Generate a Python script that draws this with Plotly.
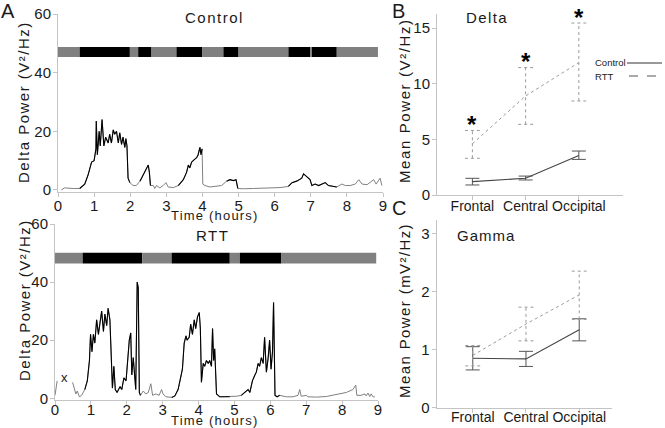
import plotly.graph_objects as go

# ---------------- DATA ----------------
ctrl_t = [0.09, 0.18, 0.42, 0.60, 0.65, 0.74, 0.83, 0.93, 1.00, 1.05, 1.06, 1.09, 1.14, 1.17, 1.22, 1.27,
          1.32, 1.39, 1.43, 1.48, 1.53, 1.57, 1.62, 1.67, 1.71, 1.76, 1.80, 1.85, 1.88, 1.91, 1.94, 1.99,
          2.08, 2.17, 2.27, 2.36, 2.45, 2.50, 2.53, 2.56, 2.64, 2.68, 2.73, 2.82, 2.91, 2.99, 3.05, 3.19,
          3.33, 3.47, 3.56, 3.61, 3.65, 3.70, 3.79, 3.84, 3.88, 3.93, 3.96, 3.99, 4.01, 4.07, 4.21, 4.39,
          4.53, 4.67, 4.76, 4.86, 4.93, 4.98, 5.13, 5.41, 5.78, 6.15, 6.38, 6.48, 6.61, 6.75, 6.80, 6.89,
          6.98, 7.03, 7.12, 7.22, 7.31, 7.40, 7.49, 7.72, 7.86, 7.96, 8.09, 8.23, 8.33, 8.42, 8.56, 8.65,
          8.74, 8.81, 8.92, 8.97]
ctrl_v = [0.0, 0.7, 0.5, 0.5, 1.0, 2.0, 5.0, 9.5, 10.0, 14.0, 23.5, 12.0, 20.0, 15.0, 24.0, 15.0,
          18.0, 16.0, 19.0, 16.0, 20.5, 19.0, 20.0, 16.0, 19.5, 15.5, 18.0, 14.5, 17.5, 15.0, 4.0, 2.5,
          1.5, 1.5, 3.0, 5.0, 7.5, 8.5, 6.0, 1.5, 1.5, 0.5, 1.5, 0.7, 1.5, 2.5, 1.0, 0.8,
          1.5, 3.5, 6.0, 8.5, 7.5, 9.5, 10.5, 11.0, 12.0, 14.5, 12.0, 14.0, 2.0, 1.5, 1.0, 1.2,
          1.5, 3.0, 3.5, 3.2, 3.5, 0.5, 0.4, 0.5, 0.7, 0.8, 1.2, 2.5, 3.0, 4.0, 5.5, 4.5,
          3.5, 1.5, 2.0, 1.5, 2.0, 2.5, 1.5, 1.0, 2.0, 1.5, 1.5, 2.0, 3.5, 2.0, 1.8, 2.5,
          3.5, 2.0, 4.0, 1.5]

rtt_t = [0.00, 0.03, 0.06, 0.20, 0.49, 0.53, 0.58, 0.62, 0.68, 0.74, 0.83, 0.90, 0.96, 0.99, 1.03, 1.07,
         1.11, 1.16, 1.21, 1.25, 1.30, 1.35, 1.39, 1.44, 1.48, 1.53, 1.58, 1.60, 1.64, 1.68, 1.73, 1.81,
         1.86, 1.92, 1.98, 2.02, 2.07, 2.11, 2.14, 2.18, 2.22, 2.25, 2.29, 2.32, 2.35, 2.38, 2.46, 2.53,
         2.60, 2.67, 2.72, 2.81, 2.90, 2.97, 3.01, 3.09, 3.25, 3.34, 3.43, 3.51, 3.55, 3.60, 3.65, 3.68,
         3.74, 3.78, 3.83, 3.88, 3.92, 3.97, 4.02, 4.05, 4.08, 4.13, 4.17, 4.22, 4.27, 4.31, 4.36, 4.39,
         4.42, 4.45, 4.50, 4.59, 4.87, 5.06, 5.19, 5.29, 5.38, 5.43, 5.50, 5.57, 5.61, 5.66, 5.70, 5.75,
         5.80, 5.84, 5.89, 5.94, 5.98, 6.02, 6.06, 6.09, 6.13, 6.19, 6.26, 6.45, 6.63, 6.77, 6.82, 6.86,
         7.00, 7.05, 7.28, 7.56, 7.84, 8.12, 8.30, 8.38, 8.41, 8.53, 8.63, 8.67, 8.72, 8.77, 8.81, 8.86,
         8.91]
rtt_v = [1.0, 4.0, 6.0, None, 5.5, 3.5, 1.5, 2.5, 0.5, 1.0, 3.0, 6.0, 13.0, 22.0, 16.0, 22.0,
         19.0, 27.0, 22.0, 26.0, 30.0, 23.0, 29.0, 25.0, 31.0, 27.0, 12.0, 3.5, 11.0, 3.0, 2.0, 4.0,
         3.0, 7.0, 6.0, 14.0, 20.0, 22.5, 8.0, 14.0, 7.0, 3.0, 40.0, 38.0, 2.0, 1.0, 2.5, 1.5,
         2.0, 5.0, 1.0, 1.5, 1.0, 3.0, 1.5, 0.5, 0.3, 0.8, 3.0, 7.0, 10.0, 19.0, 21.5, 20.0,
         21.0, 25.5, 22.0, 27.0, 24.0, 28.0, 29.5, 24.0, 5.5, 12.0, 11.0, 13.0, 12.0, 13.0, 11.0, 24.0,
         13.0, 17.0, 1.5, 0.5, 0.5, 0.7, 1.0, 2.0, 3.0, 2.0, 6.0, 8.0, 9.0, 12.0, 11.0, 14.0,
         12.0, 21.0, 9.0, 14.0, 20.0, 10.0, 16.0, 33.0, 1.0, 0.5, 1.0, 0.5, 0.5, 1.0, 3.0, 0.7,
         1.0, 0.5, 0.4, 0.6, 1.2, 2.0, 3.0, 4.5, 1.0, 1.0, 1.5, 0.8, 1.8, 0.6, 1.5, 0.5,
         0.5]

# hypnogram state boundaries (hours); segments alternate wake (grey) / sleep (black), starting with wake
ctrl_hyp_edges = [0.0, 0.60, 1.99, 2.22, 2.59, 3.28, 4.00, 4.58, 5.00, 6.38, 6.98, 7.03, 7.72, 8.86]
rtt_hyp_edges = [0.0, 0.77, 2.43, 3.25, 4.87, 5.15, 6.31, 8.95]

regions = ["Frontal", "Central", "Occipital"]
delta_ctrl = [1.2, 1.5, 3.55]
delta_ctrl_lo = [0.9, 1.35, 3.2]
delta_ctrl_hi = [1.5, 1.7, 3.95]
delta_rtt = [4.6, 8.9, 11.9]
delta_rtt_lo = [3.3, 6.35, 8.45]
delta_rtt_hi = [5.8, 11.45, 15.45]

gamma_ctrl = [0.85, 0.84, 1.34]
gamma_ctrl_lo = [0.65, 0.71, 1.15]
gamma_ctrl_hi = [1.05, 0.97, 1.53]
gamma_rtt = [0.90, 1.44, 1.94]
gamma_rtt_lo = [0.72, 1.15, 1.52]
gamma_rtt_hi = [1.07, 1.73, 2.35]

# ---------------- STYLE ----------------
FONT = "Liberation Sans, Arial, sans-serif"
GREY = "#808080"
AXC = "#c4c4c4"
W, H = 665, 428


def px(xp):
    return xp / W


def py(yp):
    return 1 - yp / H


fig = go.Figure()


def sleep_mask(t, v, edges):
    out = []
    for ti, vi in zip(t, v):
        keep = False
        for k in range(1, len(edges) - 1, 2):
            if edges[k] <= ti <= edges[k + 1]:
                keep = True
        out.append(vi if keep else None)
    return out


for (t, v, edges, xa, ya) in [(ctrl_t, ctrl_v, ctrl_hyp_edges, "x", "y"),
                              (rtt_t, rtt_v, rtt_hyp_edges, "x2", "y2")]:
    fig.add_trace(go.Scatter(x=t, y=v, mode="lines", line=dict(color=GREY, width=1),
                             connectgaps=False, xaxis=xa, yaxis=ya, showlegend=False))
    fig.add_trace(go.Scatter(x=t, y=sleep_mask(t, v, edges), mode="lines",
                             line=dict(color="#000000", width=1.1),
                             connectgaps=False, xaxis=xa, yaxis=ya, showlegend=False))

shapes = []
for edges, xr, yr, y0, y1 in [(ctrl_hyp_edges, "x", "y", 45.3, 48.75),
                              (rtt_hyp_edges, "x2", "y2", 46.4, 50.1)]:
    for k in range(len(edges) - 1):
        col = GREY if k % 2 == 0 else "#000000"
        shapes.append(dict(type="rect", xref=xr, yref=yr, x0=edges[k], x1=edges[k + 1],
                           y0=y0, y1=y1, fillcolor=col, line=dict(width=0), layer="above"))

# Panel B / C
xi = list(range(len(regions)))
panels = [
    ("x3", "y3", delta_ctrl, delta_ctrl_lo, delta_ctrl_hi, delta_rtt, delta_rtt_lo, delta_rtt_hi, 0.14),
    ("x4", "y4", gamma_ctrl, gamma_ctrl_lo, gamma_ctrl_hi, gamma_rtt, gamma_rtt_lo, gamma_rtt_hi, 0.14),
]
for xa, ya, cm, cl, ch, rm, rl, rh, cap in panels:
    fig.add_trace(go.Scatter(x=xi, y=rm, mode="lines", line=dict(color="#9a9a9a", width=1, dash="dot"),
                             xaxis=xa, yaxis=ya, showlegend=False))
    for i in xi:
        shapes.append(dict(type="line", xref=xa, yref=ya, x0=i, x1=i, y0=rl[i], y1=rh[i],
                           line=dict(color="#9a9a9a", width=1, dash="dot")))
        for yy in (rl[i], rh[i]):
            shapes.append(dict(type="line", xref=xa, yref=ya, x0=i - cap, x1=i + cap, y0=yy, y1=yy,
                               line=dict(color="#9a9a9a", width=1, dash="dot")))
    fig.add_trace(go.Scatter(
        x=xi, y=cm, mode="lines", line=dict(color="#444444", width=1.1),
        error_y=dict(type="data", symmetric=False,
                     array=[h - m for h, m in zip(ch, cm)],
                     arrayminus=[m - l for m, l in zip(cm, cl)],
                     color="#555555", thickness=1, width=7),
        xaxis=xa, yaxis=ya, showlegend=False))

# legend in B (drawn manually: text left of line sample)
shapes.append(dict(type="line", xref="paper", yref="paper", x0=px(627), x1=px(662), y0=py(63), y1=py(63),
                   line=dict(color="#333333", width=1)))
shapes.append(dict(type="line", xref="paper", yref="paper", x0=px(629), x1=px(662), y0=py(76), y1=py(76),
                   line=dict(color="#555555", width=1, dash="dash")))

ann = []


def txt(x, y, s, size, xanchor="center", yanchor="middle", angle=0, ref=("paper", "paper"),
        color="#1a1a1a", ls=0):
    if ls:
        s = '<span style="letter-spacing:%spx">%s</span>' % (ls, s)
    ann.append(dict(x=x, y=y, xref=ref[0], yref=ref[1], text=s, showarrow=False, textangle=angle,
                    xanchor=xanchor, yanchor=yanchor, font=dict(family=FONT, size=size, color=color)))


txt(px(8), py(11), "A", 20)
txt(px(398), py(11), "B", 20)
txt(px(399), py(208), "C", 20)
txt(px(214), py(18), "Control", 15, ls=1.5)
txt(px(212), py(236), "RTT", 15, ls=1.5)
txt(px(24), py(102), "Delta Power (V²/Hz)", 15, angle=-90, ls=1.5)
txt(px(24), py(300), "Delta Power (V²/Hz)", 15, angle=-90, ls=1.5)
txt(px(215), py(216), "Time (hours)", 13, ls=1.2)
txt(px(215), py(420), "Time (hours)", 13, ls=1.2)
txt(px(404), py(101), "Mean Power (V²/Hz)", 15, angle=-90, ls=1.6)
txt(px(404), py(311), "Mean Power (mV²/Hz)", 15, angle=-90, ls=1.4)
txt(px(464), py(17), "Delta", 15, xanchor="left", ls=1.4)
txt(px(455), py(236), "Gamma", 15, xanchor="left", ls=1.0)
txt(px(593), py(63), "Control", 9.5, xanchor="left")
txt(px(593), py(76), "RTT", 9.5, xanchor="left")
txt(0.27, 7.3, "x", 13, ref=("x2", "y2"))
for i, h in enumerate(delta_rtt_hi):
    txt(i, h - 0.85, "<b>*</b>", 24, yanchor="bottom", ref=("x3", "y3"), color="#000")

axis_common = dict(showline=True, linecolor=AXC, linewidth=1, ticks="outside", tickcolor=AXC,
                   ticklen=4, showgrid=False, zeroline=False, tickangle=0, automargin=False,
                   tickfont=dict(family=FONT, size=15, color="#1a1a1a"))
ycommon = dict(axis_common, ticklabelstandoff=-1)


def xc(standoff, size=15):
    d = dict(axis_common, ticklabelstandoff=standoff)
    d["tickfont"] = dict(family=FONT, size=size, color="#1a1a1a")
    return d


fig.update_layout(
    width=W, height=H, margin=dict(l=0, r=0, t=0, b=0, autoexpand=False),
    paper_bgcolor="white", plot_bgcolor="white",
    xaxis=dict(domain=[px(58), px(383)], range=[0, 9], tickvals=list(range(10)), anchor="y", **xc(-4)),
    yaxis=dict(domain=[py(191.7), py(14)], range=[-0.6, 60], tickvals=[0, 20, 40, 60], anchor="x", **ycommon),
    xaxis2=dict(domain=[px(55), px(378)], range=[0, 9], tickvals=list(range(10)), anchor="y2", **xc(-8)),
    yaxis2=dict(domain=[py(400), py(224)], range=[-0.6, 60], tickvals=[0, 20, 40, 60], anchor="x2", **ycommon),
    xaxis3=dict(domain=[px(437), px(623)], range=[-0.665, 2.83], tickvals=xi, ticktext=regions, anchor="y3", **xc(-6, 14)),
    yaxis3=dict(domain=[py(195), py(13.6)], range=[0, 16.3], tickvals=[0, 5, 10, 15], anchor="x3", **ycommon),
    xaxis4=dict(domain=[px(436.7), px(611.7)], range=[-0.677, 2.61], tickvals=xi, ticktext=regions, anchor="y4", **xc(-8, 14)),
    yaxis4=dict(domain=[py(407.7), py(220)], range=[0, 3.23], tickvals=[0, 1, 2, 3], anchor="x4", **ycommon),
    shapes=shapes, annotations=ann,
)

fig.write_html("out.html", config={"displayModeBar": False},
               post_script="document.body.style.margin='0';")
